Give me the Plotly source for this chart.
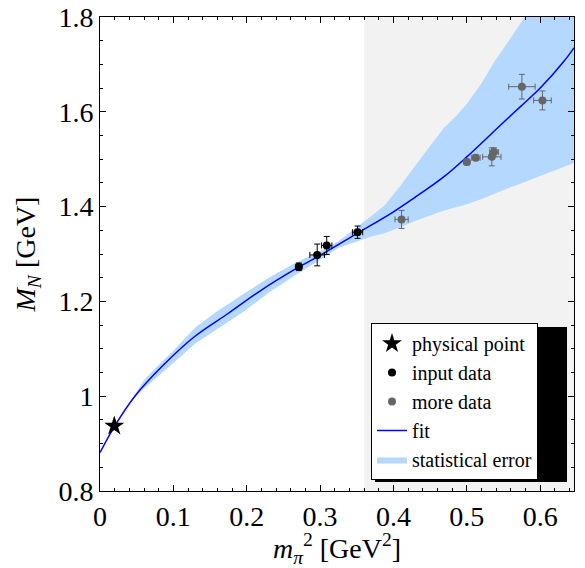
import plotly.graph_objects as go

# ---- data ----
fit_x = [0.0, 0.02, 0.047, 0.084, 0.129, 0.175, 0.22, 0.266, 0.3, 0.35, 0.4, 0.427, 0.468, 0.5, 0.55, 0.573, 0.6, 0.632, 0.646]
fit_y = [0.881, 0.937, 0.999, 1.062, 1.126, 1.175, 1.224, 1.268, 1.297, 1.343, 1.389, 1.417, 1.462, 1.505, 1.578, 1.611, 1.650, 1.706, 1.735]

band_x = [0.045, 0.06, 0.08, 0.1, 0.129, 0.16, 0.197, 0.23, 0.266, 0.3, 0.325, 0.354, 0.37, 0.388, 0.41, 0.43, 0.45, 0.468, 0.486, 0.5, 0.52, 0.536, 0.558, 0.579, 0.62, 0.646]
band_lo = [0.995, 1.016, 1.044, 1.070, 1.110, 1.142, 1.180, 1.218, 1.255, 1.288, 1.313, 1.329, 1.337, 1.344, 1.357, 1.370, 1.381, 1.391, 1.399, 1.405, 1.416, 1.426, 1.440, 1.452, 1.476, 1.492]
band_hi = [0.997, 1.034, 1.066, 1.096, 1.144, 1.180, 1.217, 1.250, 1.281, 1.306, 1.327, 1.361, 1.380, 1.403, 1.445, 1.487, 1.527, 1.565, 1.592, 1.617, 1.660, 1.702, 1.752, 1.800, 1.900, 1.960]

phys_x = [0.0195]
phys_y = [0.937]

in_x = [0.271, 0.296, 0.309, 0.351]
in_y = [1.273, 1.298, 1.318, 1.346]
in_ex = [0.004, 0.010, 0.007, 0.007]
in_ey = [0.008, 0.023, 0.019, 0.013]

more_x = [0.411, 0.500, 0.512, 0.534, 0.537, 0.575, 0.603]
more_y = [1.373, 1.494, 1.503, 1.505, 1.515, 1.653, 1.624]
more_ex = [0.009, 0.004, 0.006, 0.0125, 0.006, 0.018, 0.012]
more_ey = [0.019, 0.006, 0.006, 0.019, 0.009, 0.026, 0.020]

gray_start = 0.36
x_range = [0, 0.646]
y_range = [0.8, 1.8]

FONT = "Liberation Serif"

fig = go.Figure()

fig.add_trace(go.Scatter(
    x=band_x + band_x[::-1], y=band_hi + band_lo[::-1],
    fill="toself", fillcolor="#b4d8ff", line=dict(width=0),
    mode="lines", name="statistical error", legendrank=5, hoverinfo="skip"))

fig.add_trace(go.Scatter(
    x=fit_x, y=fit_y, mode="lines", line=dict(color="#0000ff", width=1.5, shape="spline"),
    name="fit", legendrank=4))

fig.add_trace(go.Scatter(
    x=more_x, y=more_y, mode="markers",
    marker=dict(color="#666666", size=8, symbol="circle"),
    error_x=dict(type="data", array=more_ex, color="#666666", thickness=1, width=3),
    error_y=dict(type="data", array=more_ey, color="#666666", thickness=1, width=3),
    name="more data", legendrank=3))

fig.add_trace(go.Scatter(
    x=in_x, y=in_y, mode="markers",
    marker=dict(color="black", size=8, symbol="circle"),
    error_x=dict(type="data", array=in_ex, color="black", thickness=1, width=3),
    error_y=dict(type="data", array=in_ey, color="black", thickness=1, width=3),
    name="input data", legendrank=2))

fig.add_trace(go.Scatter(
    x=phys_x, y=phys_y, mode="markers",
    marker=dict(color="black", size=15, symbol="star"),
    name="physical point", legendrank=1))

# shaded region
fig.add_shape(type="rect", xref="x", yref="paper", x0=gray_start, x1=x_range[1], y0=0, y1=1,
              fillcolor="#f2f2f2", line=dict(width=0), layer="below")

# legend shadow
fig.add_shape(type="rect", xref="paper", yref="paper",
              x0=(375 - 100) / 474, x1=(567 - 100) / 474,
              y0=(491 - 482) / 474, y1=(491 - 327) / 474,
              fillcolor="black", line=dict(width=0), layer="above")

axis_common = dict(
    showgrid=False, zeroline=False, showline=True, linecolor="black", linewidth=1,
    mirror="ticks", ticks="inside", ticklen=6, tickcolor="black", tickwidth=1,
    tickfont=dict(family=FONT, size=28, color="black"), automargin=False,
)

fig.update_xaxes(range=x_range, dtick=0.1, tick0=0,
                 minor=dict(dtick=0.02, ticks="inside", ticklen=3, tickcolor="black"),
                 title=dict(text="<i>m<sub>π</sub></i><sup>2</sup> [GeV<sup>2</sup>]",
                            font=dict(family=FONT, size=28, color="black"), standoff=0),
                 **axis_common)
fig.update_yaxes(range=y_range, dtick=0.2, tick0=0.8,
                 minor=dict(dtick=0.05, ticks="inside", ticklen=3, tickcolor="black"),
                 title=dict(text="<i>M<sub>N</sub></i> [GeV]",
                            font=dict(family=FONT, size=28, color="black"), standoff=14),
                 **axis_common)

fig.update_layout(
    width=585, height=568,
    margin=dict(l=100, r=11, t=17, b=77),
    paper_bgcolor="white", plot_bgcolor="white",
    font=dict(family=FONT, color="black"),
    legend=dict(x=(371 - 100) / 474, y=(491 - 323) / 474, xanchor="left", yanchor="top",
                bgcolor="white", bordercolor="black", borderwidth=1,
                font=dict(family=FONT, size=20, color="black"),
                itemwidth=30, tracegroupgap=0),
    showlegend=True,
)

fig.write_html("out.html", config={"displayModeBar": False},
               post_script="document.body.style.margin='0';document.body.style.padding='0';")
